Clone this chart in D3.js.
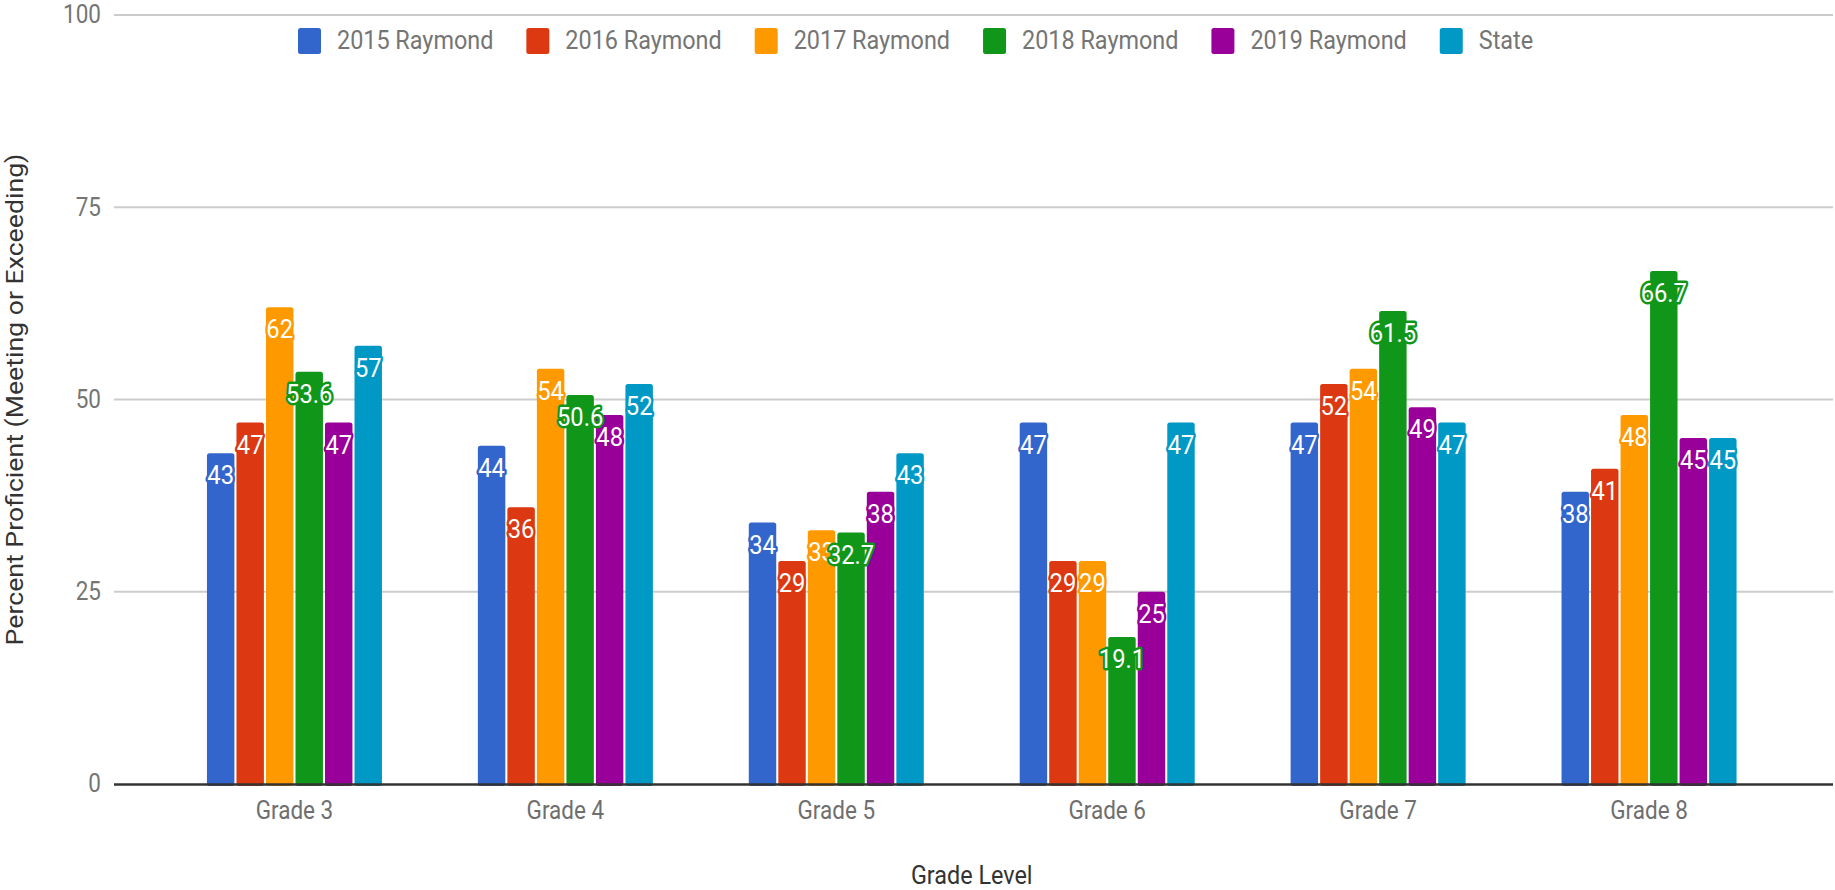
<!DOCTYPE html>
<html>
<head>
<meta charset="utf-8">
<script src="https://cdn.jsdelivr.net/npm/d3@7"></script>
<style>
  html, body { margin: 0; padding: 0; background: #fff; }
  svg { display: block; font-family: Roboto, "Noto Sans", sans-serif; }
</style>
</head>
<body>
<svg id="chart" width="1835" height="890"></svg>
<script>
// Proficiency by grade, five Raymond cohorts plus the state average
const grades = ["Grade 3", "Grade 4", "Grade 5", "Grade 6", "Grade 7", "Grade 8"];
const seriesNames = ["2015 Raymond", "2016 Raymond", "2017 Raymond", "2018 Raymond", "2019 Raymond", "State"];
const seriesColors = ["#3366cc", "#dc3912", "#ff9900", "#109618", "#990099", "#0099c6"];

const raymond2015 = [43, 44, 34, 47, 47, 38];
const raymond2016 = [47, 36, 29, 29, 52, 41];
const raymond2017 = [62, 54, 33, 29, 54, 48];
const raymond2018 = [53.6, 50.6, 32.7, 19.1, 61.5, 66.7];
const raymond2019 = [47, 48, 38, 25, 49, 45];
const stateAvg    = [57, 52, 43, 47, 47, 45];

const yTicks = [0, 25, 50, 75, 100];
const xTitle = "Grade Level";
const yTitle = "Percent Proficient (Meeting or Exceeding)";

const seriesValues = [raymond2015, raymond2016, raymond2017, raymond2018, raymond2019, stateAvg];

const svg = d3.select("#chart");
const squeeze = 0.9;       // horizontal text compression
const labelSqueeze = 0.95; // compression for the value labels

const y = d3.scaleLinear().domain([0, 100]).range([784, 15]);
const x0 = d3.scaleBand().domain(grades).range([159, 1784.5])
  .paddingInner(0.354).paddingOuter(0.177);
const x1 = d3.scaleBand().domain(seriesNames).range([0, x0.bandwidth()]).paddingInner(0.07);
const color = d3.scaleOrdinal().domain(seriesNames).range(seriesColors);

const gridLeft = 114, gridRight = 1833;

// horizontal gridlines
svg.append("g").selectAll("line")
  .data(yTicks.filter(d => d !== 0))
  .join("line")
  .attr("x1", gridLeft).attr("x2", gridRight)
  .attr("y1", d => y(d)).attr("y2", d => y(d))
  .attr("stroke", "#cccccc").attr("stroke-width", 2);

// y tick labels
svg.append("g").selectAll("text")
  .data(yTicks)
  .join("text")
  .attr("transform", d => `translate(101,${y(d)}) scale(${squeeze},1)`)
  .attr("text-anchor", "end")
  .attr("dominant-baseline", "central")
  .attr("font-size", 25)
  .attr("fill", "#757575")
  .text(d => d);

// bars
const rows = grades.map((g, gi) => seriesNames.map((s, si) => ({ grade: g, series: s, value: seriesValues[si][gi] })));

const groups = svg.append("g").selectAll("g")
  .data(rows)
  .join("g")
  .attr("transform", d => `translate(${x0(d[0].grade)},0)`);

groups.selectAll("rect")
  .data(d => d)
  .join("rect")
  .attr("x", d => x1(d.series))
  .attr("y", d => y(d.value))
  .attr("width", x1.bandwidth())
  .attr("height", d => y(0) - y(d.value) + 2)
  .attr("rx", 2.5)
  .attr("fill", d => color(d.series));

// baseline
svg.append("line")
  .attr("x1", gridLeft).attr("x2", gridRight)
  .attr("y1", y(0) + 0.5).attr("y2", y(0) + 0.5)
  .attr("stroke", "#333333").attr("stroke-width", 2.5);

// value labels, drawn over all bars
const labels = svg.append("g");
rows.forEach(row => {
  row.forEach(d => {
    const cx = x0(d.grade) + x1(d.series) + x1.bandwidth() / 2;
    labels.append("text")
      .attr("transform", `translate(${cx},${y(d.value) + 31}) scale(${labelSqueeze},1)`)
      .attr("text-anchor", "middle")
      .attr("font-size", 25)
      .attr("fill", "#ffffff")
      .attr("stroke", color(d.series))
      .attr("stroke-width", 5)
      .attr("stroke-linejoin", "round")
      .attr("paint-order", "stroke")
      .text(d.value);
  });
});

// x tick labels
svg.append("g").selectAll("text")
  .data(grades)
  .join("text")
  .attr("transform", d => `translate(${x0(d) + x0.bandwidth() / 2},819) scale(${squeeze},1)`)
  .attr("text-anchor", "middle")
  .attr("font-size", 25)
  .attr("fill", "#6f6f6f")
  .text(d => d);

// axis titles
svg.append("text")
  .attr("transform", `translate(${(x0.range()[0] + x0.range()[1]) / 2},884) scale(${squeeze},1)`)
  .attr("text-anchor", "middle")
  .attr("font-size", 26)
  .attr("fill", "#333333")
  .text(xTitle);

svg.append("text")
  .attr("transform", `translate(23,${(y(0) + y(100)) / 2}) rotate(-90) scale(${1 / squeeze},1)`)
  .attr("text-anchor", "middle")
  .attr("font-size", 24)
  .attr("fill", "#333333")
  .text(yTitle);

// legend
const legend = svg.append("g");
let lx = 298;
seriesNames.forEach(name => {
  legend.append("rect")
    .attr("x", lx).attr("y", 28)
    .attr("width", 23).attr("height", 26)
    .attr("rx", 2.5)
    .attr("fill", color(name));
  const t = legend.append("text")
    .attr("transform", `translate(${lx + 39},49) scale(${squeeze},1)`)
    .attr("font-size", 26)
    .attr("fill", "#757575")
    .text(name);
  const w = t.node().getComputedTextLength() * squeeze;
  lx += 39 + w + 33;
});
</script>
</body>
</html>
